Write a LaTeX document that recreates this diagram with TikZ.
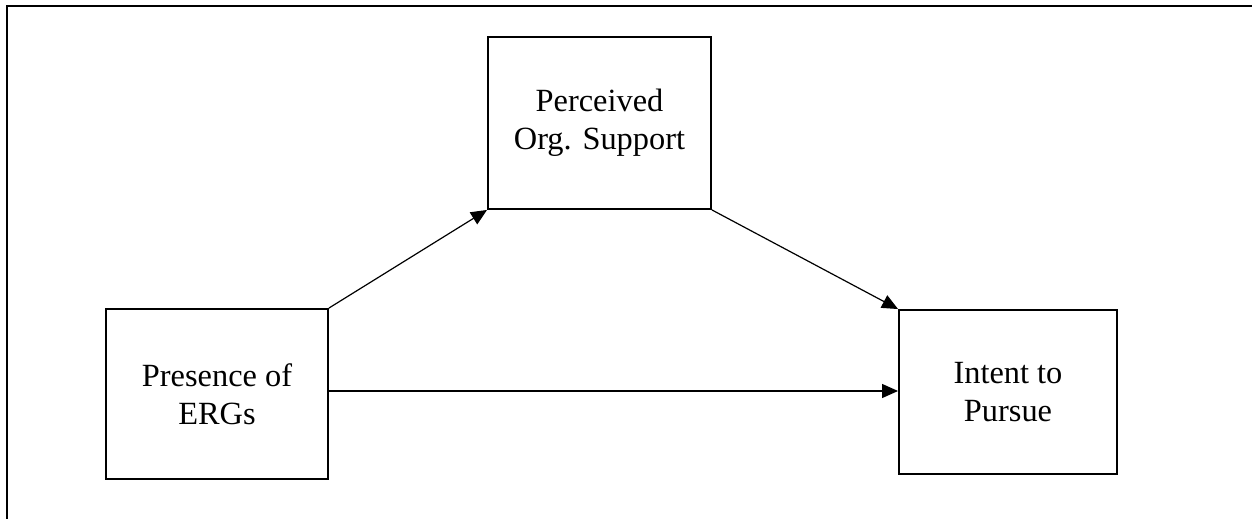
\documentclass[tikz,border=0pt]{standalone}
\usepackage{fontspec}
\setmainfont{Liberation Serif}
\usetikzlibrary{arrows.meta}
\begin{document}
\begin{tikzpicture}[x=1bp,y=-1bp,
  box/.style={draw=black,line width=1.9bp,inner sep=0pt,align=center,
    font=\fontsize{32.5}{38}\selectfont},
  conn/.style={line width=1.2bp,-{Triangle[length=16bp,width=14bp]}},
  frame/.style={line width=2.5bp}]
\useasboundingbox (0,0) rectangle (1252,519);
\draw[frame] (1252,6) -- (7,6) -- (7,519);
\node[box,minimum width=222bp,minimum height=170bp] (erg) at (217,394) {Presence of\\ERGs};
\node[box,minimum width=223bp,minimum height=172bp] (pos) at (599.5,123) {Perceived\\Org. Support};
\node[box,minimum width=218bp,minimum height=164bp] (itp) at (1008,392) {Intent to\\Pursue};
\draw[conn] (erg.north east) -- (pos.south west);
\draw[conn] (pos.south east) -- (itp.north west);
\draw[conn] (erg.east |- 0,391) -- (itp.west |- 0,391);
\end{tikzpicture}
\end{document}
